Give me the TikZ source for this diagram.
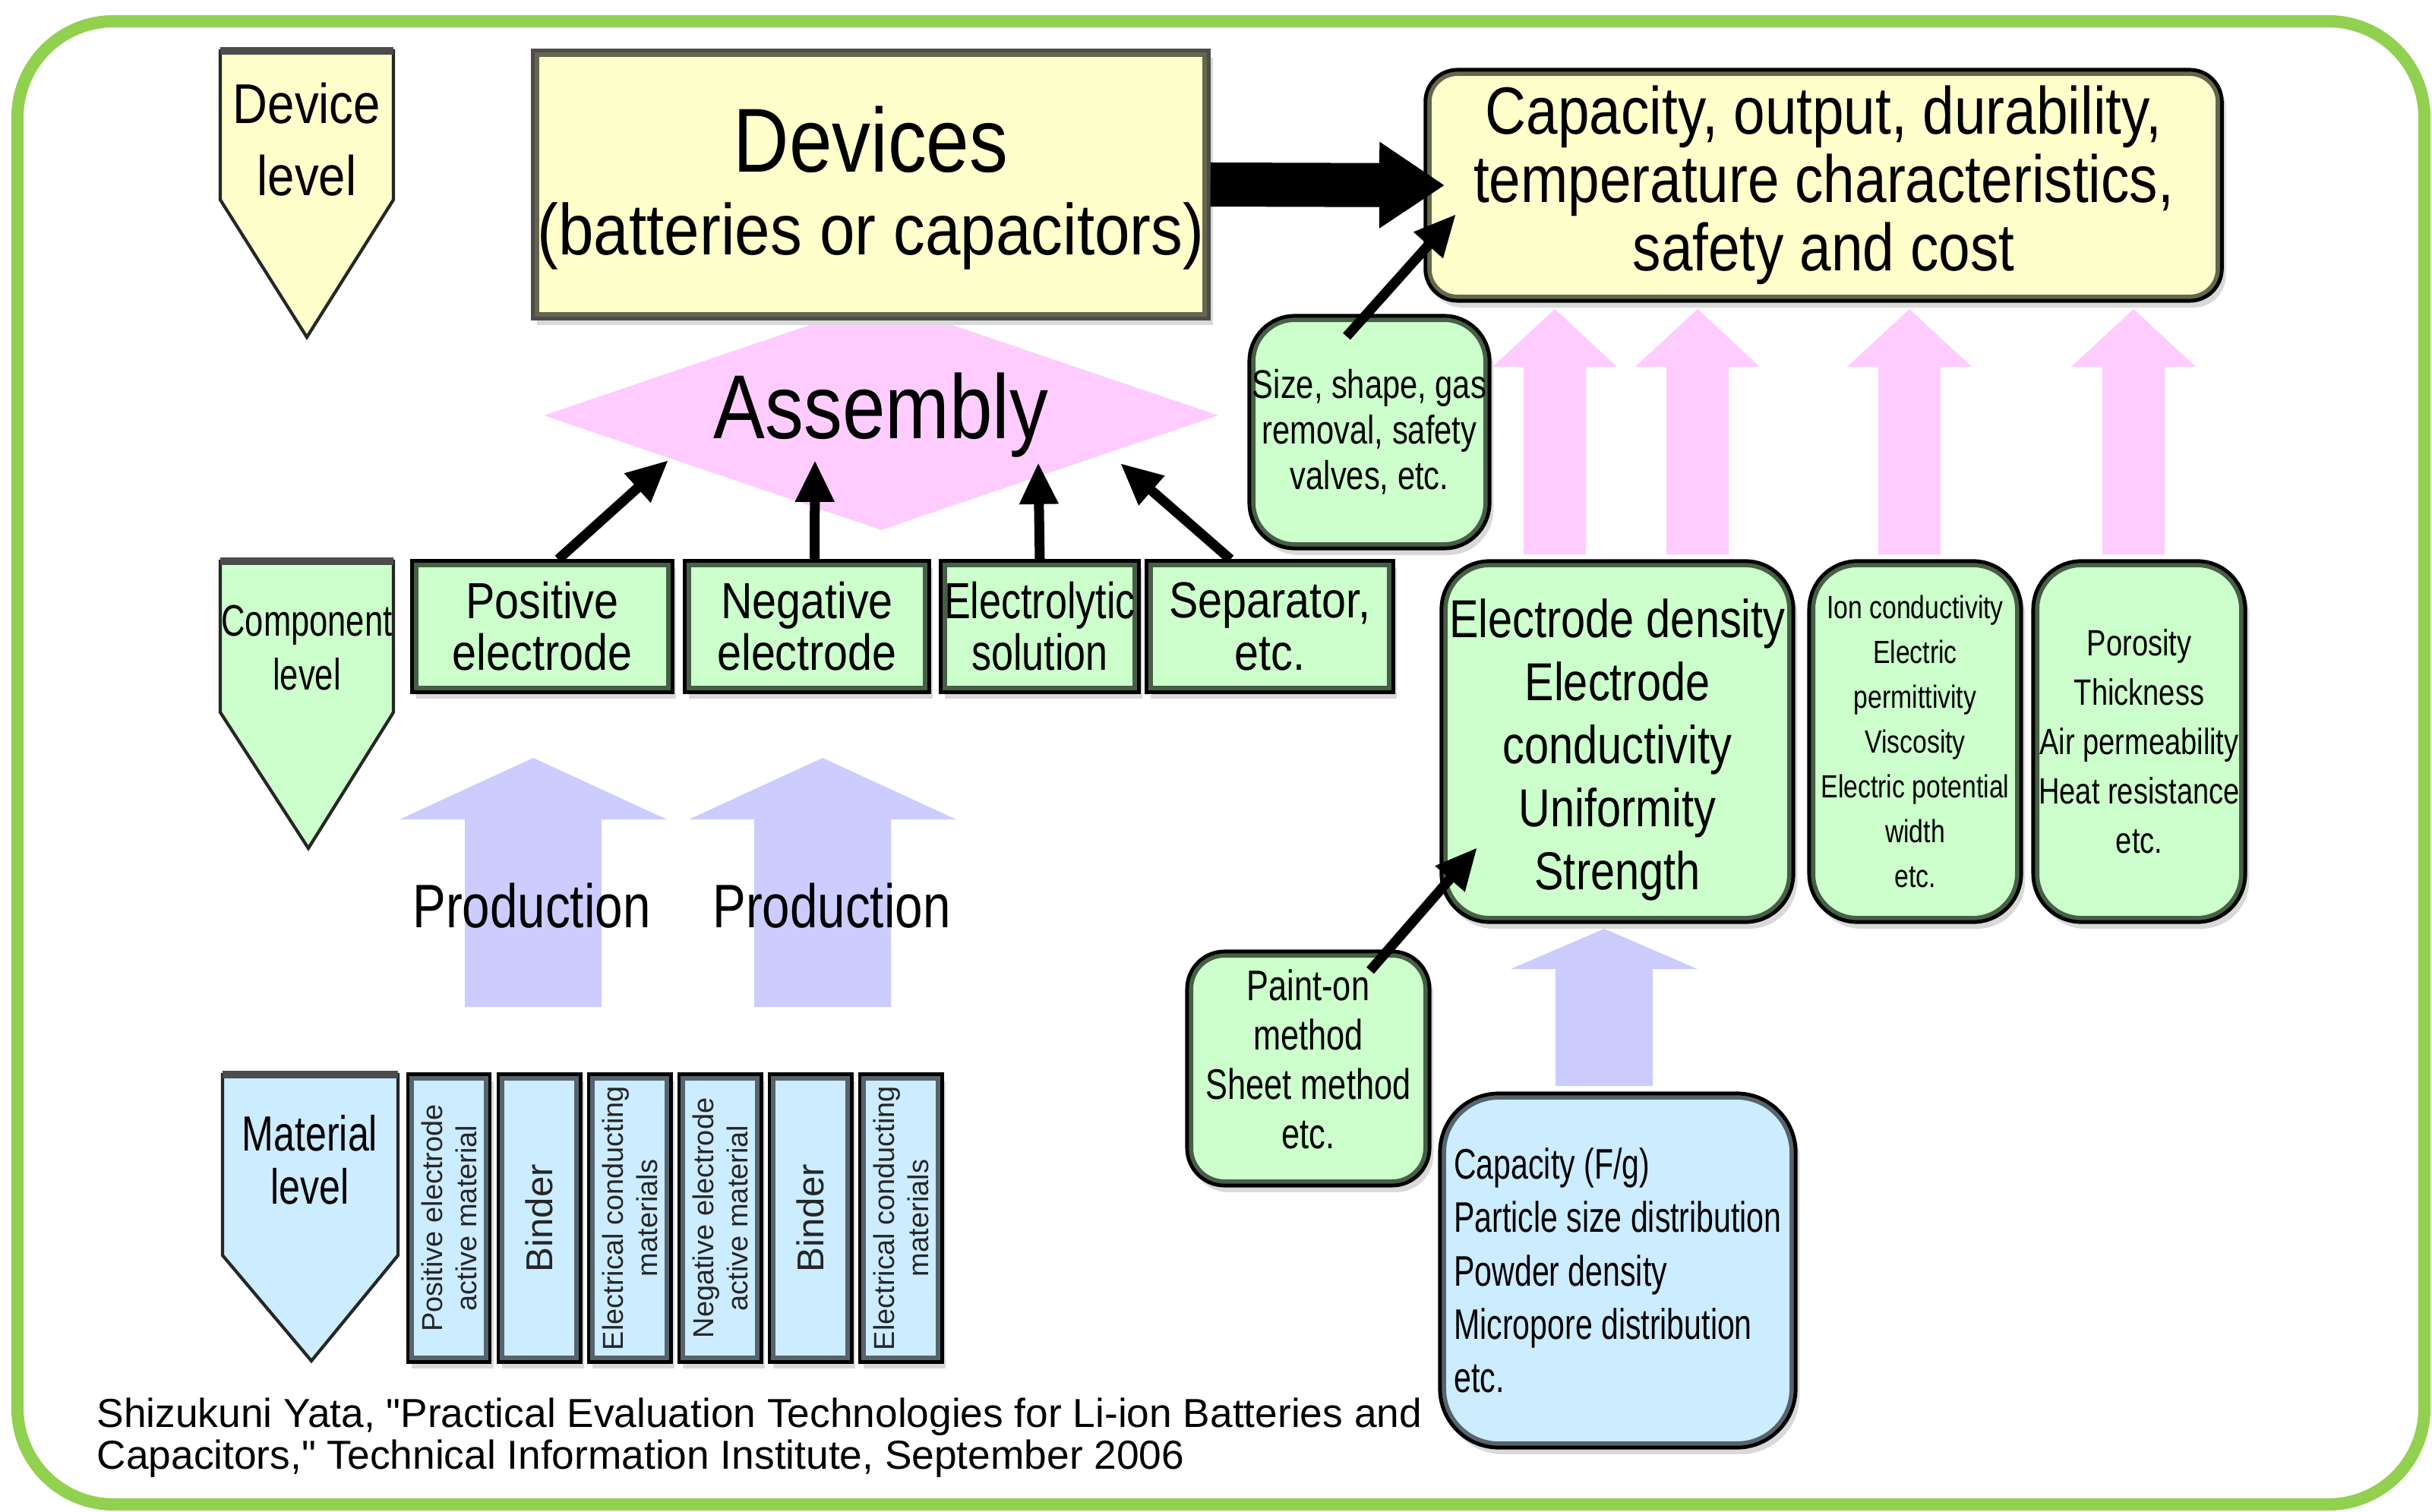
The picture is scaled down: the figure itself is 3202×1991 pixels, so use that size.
\documentclass[tikz,border=0pt]{standalone}
\usepackage{fontspec}
\setmainfont{Liberation Sans}
\usepackage{tikz}
\usetikzlibrary{shapes.geometric,arrows.meta,shadows}

\definecolor{framegreen}{HTML}{92D050}
\definecolor{paleyellow}{HTML}{FFFFCC}
\definecolor{palegreen}{HTML}{CCFFCC}
\definecolor{paleblue}{HTML}{CCECFF}
\definecolor{palepink}{HTML}{FFCCFF}
\definecolor{lavender}{HTML}{CCCCFF}
\definecolor{yellowrim}{HTML}{66664C}
\definecolor{greenrim}{HTML}{465F46}
\definecolor{bluerim}{HTML}{56646E}

% condensed text: stretch, size, line skip
\newcommand{\narrow}[3]{\addfontfeatures{FakeStretch=#1}\fontsize{#2}{#3}\selectfont}

% upward block arrow: centre x, foot y, head base y, tip y, half shaft, half head, colour
\newcommand{\blockarrow}[7]{%
  \fill[#7] (#1-#5,#2) -- (#1-#5,#3) -- (#1-#6,#3) -- (#1,#4)
    -- (#1+#6,#3) -- (#1+#5,#3) -- (#1+#5,#2) -- cycle;}

\tikzset{
  rim/.style={path picture={\draw[#1, line width=4.6pt]
      (path picture bounding box.south west) rectangle (path picture bounding box.north east);}},
  box/.style={draw=black, line width=1.4pt, inner xsep=1pt, inner ysep=0pt, align=center,
      drop shadow={shadow xshift=1.5pt, shadow yshift=-2.5pt, fill=black!15, opacity=1}},
  part/.style={box, fill=palegreen, rim=greenrim, minimum height=1.72cm,
      font={\narrow{0.86}{19pt}{19.4pt}}},
  prop/.style={box, fill=palegreen, rim=greenrim},
  matbox/.style={box, fill=paleblue, rim=bluerim, minimum width=1.08cm, minimum height=3.78cm},
  mattext/.style={rotate=90, align=center, inner sep=0pt, text=black!85},
  lvl/.style={draw=black!85, line width=1.2pt, line join=miter},
  lvltop/.style={draw=black!70, line width=2.6pt},
  lvltext/.style={align=center, inner sep=0pt},
  link/.style={line width=3.7pt, -{Triangle[length=15.6pt, width=13.7pt]}},
  fatlink/.style={line width=16.5pt, -{Triangle[length=24.5pt, width=30.7pt]}},
}

\begin{document}
\begin{tikzpicture}[x=0.01cm, y=-0.01cm]
  \useasboundingbox (0,0) rectangle (3202,1991);
  \draw[framegreen, line width=4.6pt, rounded corners=36pt] (23,28) rectangle (3192,1981);

  % level markers on the left
  \draw[lvl, fill=paleyellow] (290,67) -- (518,67) -- (518,263) -- (404,444) -- (290,263) -- cycle;
  \draw[lvltop] (290,67) -- (518,67);
  \draw[lvl, fill=palegreen] (290,739) -- (518,739) -- (518,938) -- (406,1117) -- (290,938) -- cycle;
  \draw[lvltop] (290,739) -- (518,739);
  \draw[lvl, fill=paleblue] (293,1415) -- (524,1415) -- (524,1653) -- (410,1792) -- (293,1653) -- cycle;
  \draw[lvltop] (293,1415) -- (524,1415);
  \node[lvltext, font={\narrow{0.86}{21pt}{27pt}}] (devlvl) at (404,184) {Device\\level};
  \node[lvltext, font={\narrow{0.75}{16.5pt}{20pt}}] (complvl) at (404,853) {Component\\level};
  \node[lvltext, font={\narrow{0.77}{18.5pt}{20pt}}] (matlvl) at (408,1527) {Material\\level};

  % block arrows
  \foreach \cx in {2047,2235,2514,2809}
    \blockarrow{\cx}{730}{483}{407}{41}{82}{palepink};
  \blockarrow{702}{1326}{1079}{998}{90}{176}{lavender}
  \blockarrow{1083}{1326}{1079}{998}{90}{176}{lavender}
  \blockarrow{2112}{1430}{1276}{1223}{64}{123}{lavender}

  % device level
  \node[diamond, fill=palepink, minimum width=8.88cm, minimum height=3.02cm, inner sep=0pt,
        aspect=2.94, font={\narrow{0.85}{34pt}{34pt}}] (asm) at (1160,547) {Assembly};
  \node[box, draw=black!70, fill=paleyellow, rim=yellowrim, minimum width=8.89cm, minimum height=3.52cm,
        font={\narrow{0.88}{27pt}{31pt}}, text depth=3pt] (devices) at (1146.5,243)
        {{\narrow{0.85}{34pt}{31pt}Devices}\\(batteries or capacitors)};
  \node[box, fill=paleyellow, rim=yellowrim, rounded corners=12pt, minimum width=10.48cm, minimum height=3.04cm,
        font={\narrow{0.85}{25pt}{25.6pt}}] (capacity) at (2401,244)
        {Capacity, output, durability,\\temperature characteristics,\\safety and cost};

  % components
  \node[part, minimum width=3.42cm] (pos) at (714,825) {Positive\\electrode};
  \node[part, minimum width=3.21cm] (neg) at (1062.5,825) {Negative\\electrode};
  \node[part, minimum width=2.60cm, font={\narrow{0.78}{19pt}{19.4pt}}] (ele) at (1369,825) {Electrolytic\\solution};
  \node[part, minimum width=3.24cm] (sep) at (1672,825) {Separator,\\etc.};

  % properties
  \node[prop, rounded corners=17pt, minimum width=3.16cm, minimum height=3.06cm, inner xsep=0pt,
        font={\narrow{0.79}{15pt}{17pt}}] (size) at (1803,569) {Size, shape, gas\\removal, safety\\valves, etc.};
  \node[prop, rounded corners=18pt, minimum width=4.63cm, minimum height=4.75cm,
        font={\narrow{0.82}{20pt}{23.6pt}}, text height=115pt] (eds) at (2129.5,976.5)
        {Electrode density\\Electrode\\conductivity\\Uniformity\\Strength};
  \node[prop, rounded corners=18pt, minimum width=2.79cm, minimum height=4.75cm,
        font={\narrow{0.8}{12pt}{16.8pt}}] (ion) at (2521.5,976.5)
        {Ion conductivity\\Electric\\permittivity\\Viscosity\\Electric potential\\width\\etc.};
  \node[prop, rounded corners=18pt, minimum width=2.79cm, minimum height=4.75cm,
        font={\narrow{0.79}{13.7pt}{18.5pt}}] (por) at (2816.5,976.5)
        {Porosity\\Thickness\\Air permeability\\Heat resistance\\etc.};
  \node[prop, rounded corners=14pt, minimum width=3.19cm, minimum height=3.08cm,
        font={\narrow{0.77}{16pt}{18.5pt}}, text depth=7pt] (paint) at (1722.5,1407) {Paint-on\\method\\Sheet method\\etc.};
  \node[box, fill=paleblue, rim=bluerim, rounded corners=22pt, minimum width=4.68cm, minimum height=4.66cm,
        align=left, font={\narrow{0.73}{16pt}{20pt}}] (powder) at (2130,1673)
        {Capacity (F/g)\\Particle size distribution\\Powder density\\Micropore distribution\\etc.};

  % materials
  \foreach \i/\txt/\fs in {0/{Positive electrode\\active material}/10.8pt, 1/Binder/14pt,
      2/{Electrical conducting\\materials}/10.8pt, 3/{Negative electrode\\active material}/10.8pt,
      4/Binder/14pt, 5/{Electrical conducting\\materials}/10.8pt}{
    \node[matbox] (mat\i) at ({591+119*\i},1604) {};
    \node[mattext, font={\fontsize{\fs}{12.8pt}\selectfont}] (mattxt\i) at (mat\i) {\txt};
  }

  % production labels
  \node[inner sep=0pt, font={\narrow{0.81}{23pt}{23pt}}] (prod1) at (700,1193) {Production};
  \node[inner sep=0pt, font={\narrow{0.81}{23pt}{23pt}}] (prod2) at (1095,1193) {Production};

  % connectors
  \draw[fatlink] (devices.east) -- ([shift={(28,0)}]capacity.west);
  \draw[link] ([shift={(21,0)}]pos.north) -- ([shift={(-280,59)}]asm.center);
  \draw[link] ([shift={(10,0)}]neg.north) -- ([shift={(-87,59)}]asm.center);
  \draw[link] (ele.north) -- ([shift={(207,62)}]asm.center);
  \draw[link] ([shift={(-52,0)}]sep.north) -- ([shift={(315,63)}]asm.center);
  \draw[link] ([shift={(-30,-126)}]size.center) -- ([shift={(-484,38)}]capacity.center);
  \draw[link] ([shift={(81.5,-129)}]paint.center) -- ([shift={(-184.5,139.5)}]eds.center);

  % source
  \node[anchor=west, align=left, inner sep=0pt, font={\fontsize{15.15pt}{15.6pt}\selectfont}] (cite) at (127,1893)
    {Shizukuni Yata, \textquotedbl Practical Evaluation Technologies for Li-ion Batteries and\\Capacitors,\textquotedbl\ Technical Information Institute, September 2006};
\end{tikzpicture}
\end{document}
